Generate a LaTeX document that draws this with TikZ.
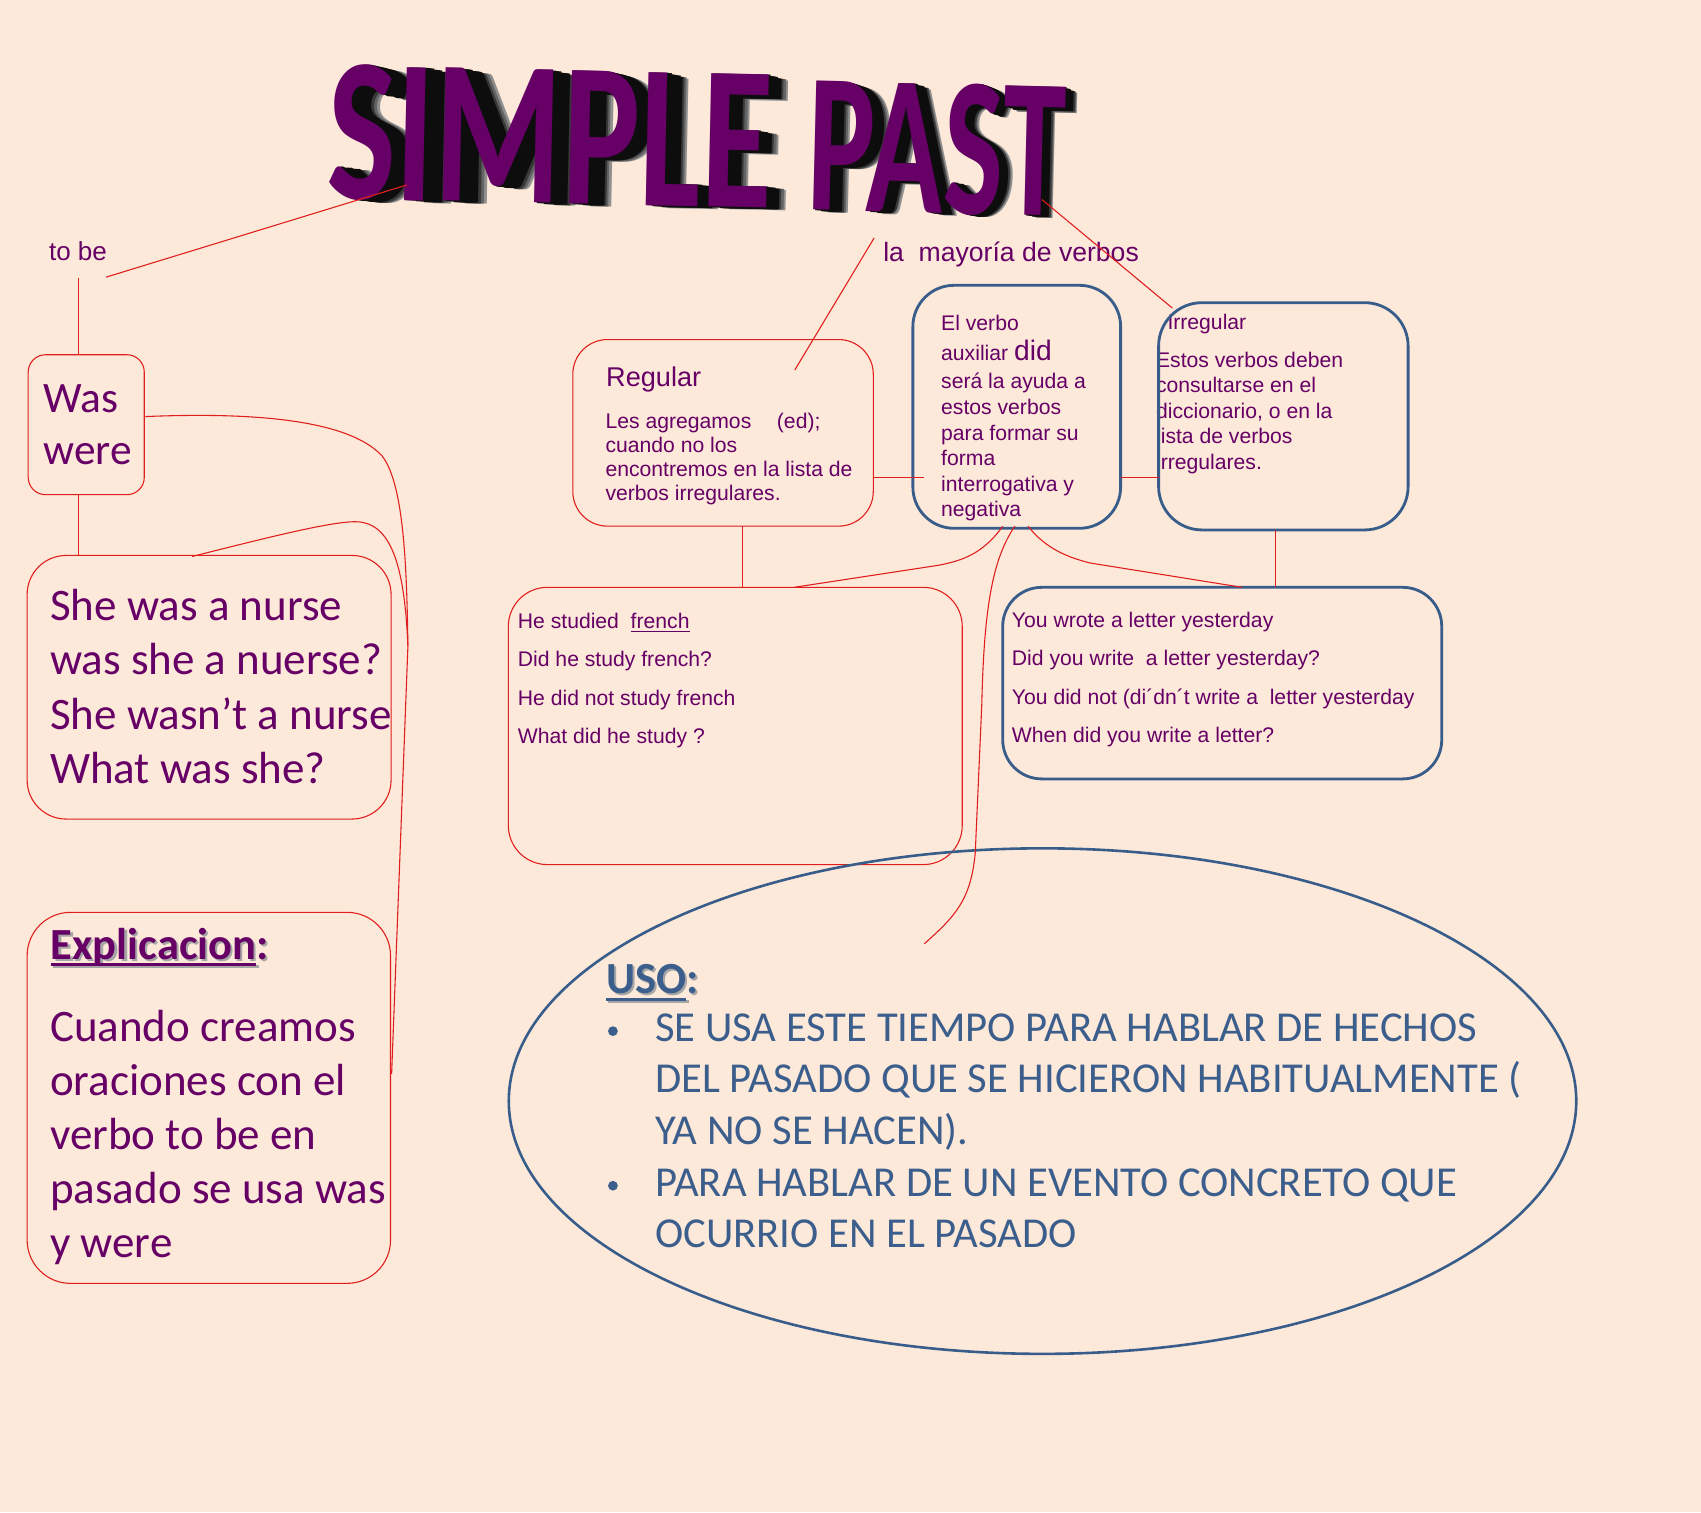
\documentclass[tikz,border=0pt]{standalone}
\usepackage{fontspec}
\setmainfont{Liberation Sans}
\newfontfamily\arialf{Liberation Sans}
\newfontfamily\calf{Carlito}
\usetikzlibrary{calc,shapes.geometric}
\definecolor{bgc}{HTML}{FDE9D9}
\definecolor{purp}{HTML}{660066}
\definecolor{bluec}{HTML}{385D8A}
\definecolor{usoc}{HTML}{3C5E8C}
\definecolor{redc}{HTML}{E01E1E}
\newsavebox\ulbox
\newcommand\myul[3]{\sbox\ulbox{#3}\rlap{\rule[#1]{\wd\ulbox}{#2}}\usebox\ulbox}
\newcommand\titleA{\resizebox{410pt}{124pt}{\calf\bfseries SIMPLE}}
\newcommand\titleB{\resizebox{237pt}{120pt}{\calf\bfseries PAST}}
\begin{document}
\begin{tikzpicture}[x=1pt,y=-1pt,
  redline/.style={draw=redc, line width=1pt},
  redbox/.style={draw=redc, line width=1pt, rectangle, inner sep=0pt, outer sep=0pt},
  bluebox/.style={draw=bluec, line width=2.6pt, rectangle, inner sep=0pt, outer sep=0pt},
  smalltxt/.style={anchor=base west, inner sep=0pt, text=purp, font=\arialf\fontsize{19.5}{23}\selectfont},
  bigtxt/.style={anchor=base west, inner sep=0pt, text=purp, font=\calf\fontsize{41.5}{50}\selectfont},
  usotxt/.style={anchor=base west, inner sep=0pt, text=usoc, font=\calf\fontsize{39.3}{47}\selectfont},
]
\fill[bgc] (0,0) rectangle (1568,1394);
\useasboundingbox (0,0) rectangle (1568,1394);

% ---------- title with extrusion ----------
\foreach \k in {10,9,...,1}{
  \pgfmathsetmacro\s{1-0.0024*\k}
  \pgfmathsetmacro\c{\k>7 ? 95-(\k-7)*17 : 95}
  \begin{scope}[shift={(1450,300)}, scale=\s, shift={(-1450,-300)}]
    \node[transform shape, rotate=-1.2, inner sep=0pt, text=black!\c] at (507,126) {\titleA};
    \node[transform shape, rotate=-1.4, inner sep=0pt, text=black!\c] at (863.5,137) {\titleB};
  \end{scope}
}
\node[rotate=-1.2, inner sep=0pt, text=purp] (titleA) at (507,126) {\titleA};
\node[rotate=-1.4, inner sep=0pt, text=purp] (titleB) at (863.5,137) {\titleB};

% ---------- texts ----------
\node[smalltxt, font=\arialf\fontsize{24}{28}\selectfont] (tobe) at (45,240.5) {to be};
\node[smalltxt, font=\arialf\fontsize{24.5}{28}\selectfont] (mayoria) at (814,241) {la~~mayoría de verbos};

\node[bigtxt, font=\calf\fontsize{40}{48}\selectfont] (was) at (40,380) {Was};
\node[bigtxt, font=\calf\fontsize{40}{48}\selectfont] (were) at (40,428) {were};

\node[bigtxt] (s1) at (46,572) {She was a nurse};
\node[bigtxt] (s2) at (46,622) {was she a nuerse?};
\node[bigtxt] (s3) at (46,672) {She wasn’t a nurse};
\node[bigtxt] (s4) at (46,722) {What was she?};

\node[bigtxt, font=\calf\bfseries\fontsize{41}{50}\selectfont, text=black!35] (explsh) at (48.7,886.3) {\myul{-6pt}{2.5pt}{Explicacion}:};
\node[bigtxt, font=\calf\bfseries\fontsize{41}{50}\selectfont] (expl) at (46.7,884.3) {\myul{-6pt}{2.5pt}{Explicacion}:};
\node[bigtxt] (e1) at (46,959.6) {Cuando creamos};
\node[bigtxt] (e2) at (46,1009.6) {oraciones con el};
\node[bigtxt] (e3) at (46,1059.6) {verbo to be en};
\node[bigtxt] (e4) at (46,1109.6) {pasado se usa was};
\node[bigtxt] (e5) at (46,1159.6) {y were};

\node[smalltxt, font=\arialf\fontsize{25}{28}\selectfont] (regt) at (558.6,356) {Regular};
\node[smalltxt] (r1) at (558,394.9) {Les agregamos\hspace{23.6pt}(ed);};
\node[smalltxt] (r2) at (558,417) {cuando no los};
\node[smalltxt] (r3) at (558,439.1) {encontremos en la lista de};
\node[smalltxt] (r4) at (558,461.2) {verbos irregulares.};

\node[smalltxt] (v1) at (867.4,305) {El verbo};
\node[smalltxt] (v2) at (867.4,332) {auxiliar {\fontsize{26}{28}\selectfont did}};
\node[smalltxt] (v3) at (867.4,358) {será la ayuda a};
\node[smalltxt] (v4) at (867.4,382) {estos verbos};
\node[smalltxt] (v5) at (867.4,406) {para formar su};
\node[smalltxt] (v6) at (867.4,429) {forma};
\node[smalltxt] (v7) at (867.4,453) {interrogativa y};
\node[smalltxt] (v8) at (867.4,476) {negativa};

\node[smalltxt] (i0) at (1076,304) {Irregular};
\node[smalltxt] (i1) at (1065.5,338.6) {Estos verbos deben};
\node[smalltxt] (i2) at (1065.5,362.1) {consultarse en el};
\node[smalltxt] (i3) at (1065.5,385.6) {diccionario, o en la};
\node[smalltxt] (i4) at (1065.5,409.1) {lista de verbos};
\node[smalltxt] (i5) at (1065.5,432.6) {irregulares.};

\node[smalltxt] (h1) at (477.2,579.8) {He studied\hspace{10.8pt}\myul{-2.8pt}{1.2pt}{french}};
\node[smalltxt] (h2) at (477.2,614.8) {Did he study french?};
\node[smalltxt] (h3) at (477.2,649.9) {He did not study french};
\node[smalltxt] (h4) at (477.2,685) {What did he study ?};

\node[smalltxt] (w1) at (932.6,578.6) {You wrote a letter yesterday};
\node[smalltxt] (w2) at (932.6,613.8) {Did you write~~a letter yesterday?};
\node[smalltxt] (w3) at (932.6,649.1) {You did not (di´dn´t write a~~letter yesterday};
\node[smalltxt] (w4) at (932.6,684.3) {When did you write a letter?};

\node[usotxt, font=\calf\bfseries\fontsize{41}{50}\selectfont, text=black!35] (usosh) at (560.6,917.7) {\myul{-7pt}{3pt}{USO}:};
\node[usotxt, font=\calf\bfseries\fontsize{41}{50}\selectfont] (usoh) at (558.6,915.7) {\myul{-7pt}{3pt}{USO}:};
\node[circle, fill=usoc, minimum size=9pt, inner sep=0pt] (b1) at (565,950.5) {};
\node[circle, fill=usoc, minimum size=9pt, inner sep=0pt] (b2) at (565,1093) {};
\node[usotxt] (u1) at (603.8,960) {SE USA ESTE TIEMPO PARA HABLAR DE HECHOS};
\node[usotxt] (u2) at (603.8,1007.5) {DEL PASADO QUE SE HICIERON HABITUALMENTE (};
\node[usotxt] (u3) at (603.8,1055) {YA NO SE HACEN).};
\node[usotxt] (u4) at (603.8,1102.5) {PARA HABLAR DE UN EVENTO CONCRETO QUE};
\node[usotxt] (u5) at (603.8,1150) {OCURRIO EN EL PASADO};

% ---------- boxes ----------
\node[redbox, rounded corners=16pt, minimum width=107pt, minimum height=129pt] (wasbox) at (79.5,391.5) {};
\node[redbox, rounded corners=36pt, minimum width=335.5pt, minimum height=243pt] (shebox) at (192.75,633.5) {};
\node[redbox, rounded corners=40pt, minimum width=335pt, minimum height=342pt] (expbox) at (192.5,1012) {};
\node[redbox, rounded corners=32pt, minimum width=277pt, minimum height=172pt] (regbox) at (666.5,399) {};
\node[bluebox, rounded corners=38pt, minimum width=191.5pt, minimum height=224pt] (verbox) at (937.25,375) {};
\node[bluebox, rounded corners=40pt, minimum width=230pt, minimum height=209.5pt] (irrbox) at (1183,383.75) {};
\node[redbox, rounded corners=36pt, minimum width=418.4pt, minimum height=255.6pt] (studbox) at (677.8,669.2) {};
\node[bluebox, rounded corners=36pt, minimum width=404.7pt, minimum height=176.6pt] (wrotebox) at (1126.65,629.7) {};
\node[draw=bluec, line width=2.4pt, ellipse, minimum width=984pt, minimum height=466pt, inner sep=0pt] (uso) at (961,1015) {};

% ---------- connectors ----------
\coordinate (tobeE) at (97.7,255.5);
\coordinate (titleS) at (375,170.5);
\coordinate (tobeV) at (72.2,256);
\coordinate (wasR) at (134,384);
\coordinate (joinL) at (376,596);
\coordinate (sheT) at (177,513);
\coordinate (expR) at (361,990);
\coordinate (mayS) at (805.7,219.5);
\coordinate (regT) at (732.7,341);
\coordinate (titleT) at (960.5,184);
\coordinate (irrTL) at (1080.7,284);
\coordinate (h440) at (0,440);
\coordinate (verin) at (852,440);
\coordinate (regB) at (684.6,485);
\coordinate (irrB) at (1175.8,488.5);
\coordinate (vA) at (924.4,485);
\coordinate (vB) at (935.5,485);
\coordinate (vC) at (947.6,485);
\coordinate (studT) at (732,541.4);
\coordinate (wroteT) at (1145,541.4);
\coordinate (usoT) at (852,870);

\draw[redline] (tobeE) -- (titleS);
\draw[redline] (tobeV) -- (tobeV |- wasbox.north);
\draw[redline] (tobeV |- wasbox.south) -- (tobeV |- shebox.north);
\draw[redline] (wasR) .. controls (230,380) and (320,386) .. (352,420) .. controls (372,445) and (375,520) .. (joinL);
\draw[redline] (sheT) .. controls (260,492) and (310,480) .. (330,481) .. controls (360,483) and (373,520) .. (joinL);
\draw[redline] (joinL) -- (expR);

\draw[redline] (mayS) -- (regT);
\draw[redline] (titleT) -- (irrTL);
\draw[redline] (regbox.east |- h440) -- (verin);
\draw[redline] (verbox.east |- h440) -- (irrbox.west |- h440);
\draw[redline] (regB) -- (regB |- studbox.north);
\draw[redline] (irrB) -- (irrB |- wrotebox.north);
\draw[redline] (vA) .. controls (905,512) and (885,517) .. (865.6,521) -- (studT);
\draw[redline] (vC) .. controls (964,506) and (985,514) .. (1005,519) -- (wroteT);
\draw[redline] (vB) .. controls (915,515) and (907,560) .. (905,650) -- (899,786) .. controls (895,830) and (880,845) .. (usoT);
\end{tikzpicture}
\end{document}
